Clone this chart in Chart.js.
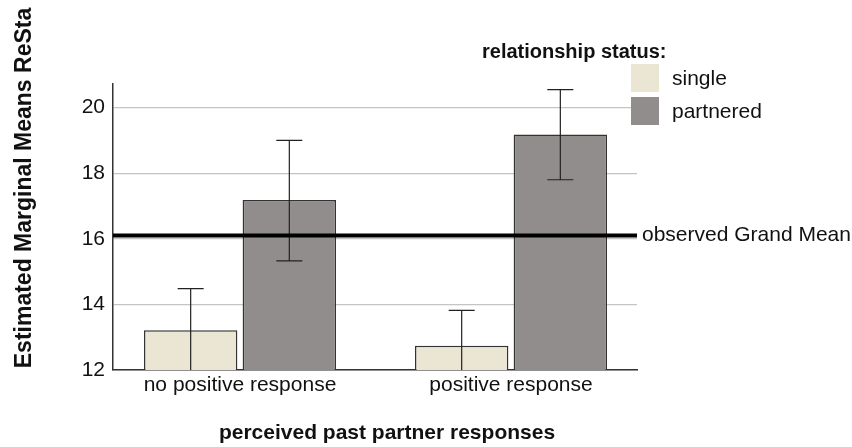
<!DOCTYPE html>
<html>
<head>
<meta charset="utf-8">
<script src="https://cdn.jsdelivr.net/npm/chart.js@4"></script>
<style>
  html, body { margin: 0; padding: 0; background: #fff; }
  #wrap { width: 852px; height: 447px; position: relative; }
</style>
</head>
<body>
<div id="wrap"><canvas id="grafico" width="852" height="447"></canvas></div>
<script>
// ==============================
// DATA
// ==============================
const categories = ["no positive response", "positive response"];
const seriesNames = ["single", "partnered"];

const singleMeans = [13.21, 12.74];
const singleLower = [11.94, 11.66];
const singleUpper = [14.48, 13.82];

const partneredMeans = [17.18, 19.18];
const partneredLower = [15.33, 17.80];
const partneredUpper = [19.00, 20.55];

const grandMean = 16.1;
const yTicks = [12, 14, 16, 18, 20];

const yTitle = "Estimated Marginal Means ReSta";
const xTitle = "perceived past partner responses";
const legendTitle = "relationship status:";
const grandMeanLabel = "observed Grand Mean";

const FONT = "'Liberation Sans', Arial, sans-serif";
const COR_SINGLE = "#ebe5d3";
const COR_PARTNER = "#918d8d";
const COR_BORDA = "#333333";

const $ = (id) => document.getElementById(id);

// categories sit at x = 0, 1 on a linear axis (groups are not evenly inset)
const pontos = (vals) => vals.map((v, i) => ({ x: i, y: v }));

// ==============================
// PLUGIN: error bars, grand mean, legend, titles
// ==============================
const extras = {
  id: "extras",
  afterDatasetsDraw(chart){
    const ctx = chart.ctx;
    const area = chart.chartArea;
    const y = chart.scales.y;
    const lows = [singleLower, partneredLower];
    const highs = [singleUpper, partneredUpper];

    ctx.save();
    ctx.strokeStyle = "#222";
    ctx.lineWidth = 1.2;
    chart.data.datasets.forEach((ds, i) => {
      const meta = chart.getDatasetMeta(i);
      meta.data.forEach((bar, j) => {
        const yHi = y.getPixelForValue(highs[i][j]);
        const yLo = y.getPixelForValue(lows[i][j]);
        const top = Math.max(yHi, area.top);
        const bot = Math.min(yLo, area.bottom);
        ctx.beginPath();
        ctx.moveTo(bar.x, top);
        ctx.lineTo(bar.x, bot);
        if (yHi >= area.top) { ctx.moveTo(bar.x - 13, yHi); ctx.lineTo(bar.x + 13, yHi); }
        if (yLo <= area.bottom) { ctx.moveTo(bar.x - 13, yLo); ctx.lineTo(bar.x + 13, yLo); }
        ctx.stroke();
      });
    });

    // grand mean
    const gy = y.getPixelForValue(grandMean);
    ctx.strokeStyle = "#000";
    ctx.lineWidth = 4;
    ctx.beginPath();
    ctx.moveTo(area.left, gy);
    ctx.lineTo(area.right, gy);
    ctx.stroke();

    ctx.fillStyle = "#111";
    ctx.font = `21px ${FONT}`;
    ctx.textAlign = "left";
    ctx.textBaseline = "middle";
    ctx.fillText(grandMeanLabel, area.right + 5, gy);
    ctx.restore();
  },
  afterDraw(chart){
    const ctx = chart.ctx;
    ctx.save();
    ctx.fillStyle = "#111";

    // legend
    ctx.font = `bold 20px ${FONT}`;
    ctx.textAlign = "left";
    ctx.textBaseline = "middle";
    ctx.fillText(legendTitle, 482, 52);

    const cores = [COR_SINGLE, COR_PARTNER];
    seriesNames.forEach((nome, i) => {
      const top = 64 + i * 33;
      ctx.fillStyle = cores[i];
      ctx.fillRect(631, top, 28, 28);
      ctx.fillStyle = "#111";
      ctx.font = `21px ${FONT}`;
      ctx.fillText(nome, 672, top + 15);
    });

    // axis titles
    ctx.font = `bold 21px ${FONT}`;
    ctx.textAlign = "center";
    ctx.fillText(xTitle, 387, 433);

    ctx.translate(25, 188);
    ctx.rotate(-Math.PI / 2);
    ctx.font = `bold 23px ${FONT}`;
    ctx.fillText(yTitle, 0, 0);
    ctx.restore();
  }
};

// ==============================
// CHART
// ==============================
new Chart($("grafico"), {
  type: "bar",
  data: {
    datasets: [
      { label: seriesNames[0], data: pontos(singleMeans), backgroundColor: COR_SINGLE, borderColor: COR_BORDA, borderWidth: 1.5 },
      { label: seriesNames[1], data: pontos(partneredMeans), backgroundColor: COR_PARTNER, borderColor: COR_BORDA, borderWidth: 1.5 }
    ]
  },
  options: {
    responsive: false,
    animation: false,
    categoryPercentage: 0.728,
    barPercentage: 0.947,
    layout: { padding: { left: 0, right: 215, top: 84, bottom: 0 } },
    plugins: { legend: { display: false }, tooltip: { enabled: false } },
    scales: {
      x: {
        type: "linear",
        offset: false,
        min: -0.4686,
        max: 1.4649,
        afterBuildTicks(scale){ scale.ticks = categories.map((c, i) => ({ value: i })); },
        grid: { display: false, drawTicks: false, offset: false },
        border: { color: COR_BORDA, width: 1.5 },
        ticks: {
          color: "#111",
          font: { family: FONT, size: 21 },
          padding: 3,
          maxRotation: 0,
          autoSkip: false,
          callback: (v) => categories[v] ?? ""
        },
        afterFit(scale){ scale.height = 77; }
      },
      y: {
        min: 12,
        max: 20.72,
        afterBuildTicks(scale){ scale.ticks = yTicks.map(v => ({ value: v })); },
        grid: { color: "#c4c4c4", lineWidth: 1.2, drawTicks: false },
        border: { color: COR_BORDA, width: 1.5 },
        ticks: { color: "#111", font: { family: FONT, size: 21 }, padding: 8 },
        afterFit(scale){ scale.width = 113; }
      }
    }
  },
  plugins: [extras]
});
</script>
</body>
</html>
